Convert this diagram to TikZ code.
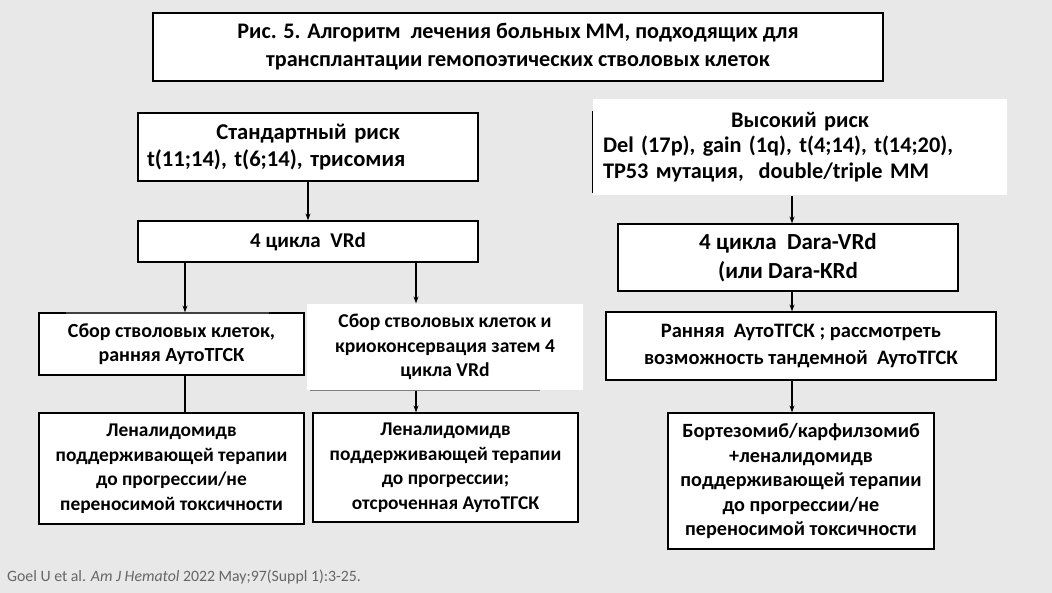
\documentclass[tikz,border=0pt]{standalone}
\usepackage{fontspec}
\setmainfont{Carlito}
\usetikzlibrary{arrows.meta,positioning}

\newcommand\boxfont[2]{\fontsize{#1}{#2}\selectfont\bfseries}

\tikzset{
	box/.style={draw, line width=1.2pt, fill=white, align=center, inner sep=2pt,
	  font=\boxfont{20}{24.5}},
	plain/.style={box, draw=none},
	arr/.style={-{Stealth[length=7pt,width=5pt]}, line width=1.2pt},
	ln/.style={line width=1.2pt}
}

\begin{document}
\begin{tikzpicture}[x=1pt,y=-1pt]
	\fill[gray!18] (0,0) rectangle (1052,593);
	\useasboundingbox (0,0) rectangle (1052,593);

	\node[box, minimum width=730pt, minimum height=68pt, font=\boxfont{22.2}{28}] (title) at (518,47)
	  {Рис. 5. Алгоритм \ лечения больных ММ, подходящих для\\
	   трансплантации гемопоэтических стволовых клеток};

	% left branch
	\node[box, minimum width=340pt, minimum height=68pt, text width=322pt, align=left,
	  font=\boxfont{22.6}{27}] (std) at (308,147)
	  {\hfil Стандартный риск\hfil\\t(11;14), t(6;14), трисомия};
	\node[box, minimum width=340pt, minimum height=41pt, font=\boxfont{21}{25}] (vrd) at (308,241.5)
	  {4 цикла \ VRd};
	\node[box, minimum width=265pt, minimum height=62pt] (col1) at (171.5,344)
	  {Сбор стволовых клеток,\\ранняя АутоТГСК};
	\draw[black!75, line width=2.2pt] ([xshift=28pt,yshift=-0.8pt]col1.north west) -- ([xshift=-36pt,yshift=-0.8pt]col1.north east);
	\node[plain, minimum width=276pt, minimum height=86pt, font=\boxfont{19.6}{24.5}] (col2) at (445,347)
	  {Сбор стволовых клеток и\\криоконсервация затем 4\\цикла VRd};
	\draw[gray, line width=1.5pt] ([xshift=4pt]col2.south west) -- ([xshift=-44pt]col2.south east);
	\node[box, minimum width=265pt, minimum height=111pt, font=\boxfont{19.4}{24.5}] (len1) at (171.5,468.5)
	  {Леналидомидв\\поддерживающей терапии\\до прогрессии/не\\переносимой токсичности};
	\node[box, minimum width=265pt, minimum height=109pt, font=\boxfont{19.4}{24.5}] (len2) at (445.5,467.5)
	  {Леналидомидв\\поддерживающей терапии\\до прогрессии;\\отсроченная АутоТГСК};

	% right branch
	\node[plain, minimum width=414pt, minimum height=96pt, text width=394pt, align=left,
	  font=\boxfont{22.3}{25.5}] (high) at (800,147)
	  {\hfil Высокий риск\hfil\\Del (17p), gain (1q), t(4;14), t(14;20),\\TP53 мутация, \ double/triple MM};
	\draw[ln] ([yshift=-13pt]high.north west) -- ([yshift=3pt]high.south west);
	\node[box, minimum width=340pt, minimum height=67pt, font=\boxfont{23}{29}] (dvrd) at (788,257.5)
	  {4 цикла \ Dara-VRd\\(или Dara-KRd};
	\node[box, minimum width=390pt, minimum height=68pt, font=\boxfont{20.5}{27}] (early) at (801,346)
	  {Ранняя \ АутоТГСК ; рассмотреть\\возможность тандемной \ АутоТГСК};
	\node[box, minimum width=266pt, minimum height=136pt, font=\boxfont{20.2}{24.5}] (bort) at (801,481)
	  {Бортезомиб/карфилзомиб\\+леналидомидв\\поддерживающей терапии\\до прогрессии/не\\переносимой токсичности};

	\node[anchor=west, text=black!60, font=\fontsize{15.8}{18}\selectfont, inner sep=0pt] (cite) at (7,577)
	  {Goel U et al. \textit{Am J Hematol} 2022 May;97(Suppl 1):3-25.};

	% connectors
	\coordinate (xl) at (185,0);
	\coordinate (xm) at (416,0);
	\coordinate (xr) at (792,0);
	\draw[arr] (std) -- (vrd);
	\draw[arr] (vrd.south -| xl) -- (col1.north -| xl);
	\draw[arr] (vrd.south -| xm) -- (col2.north -| xm);
	\draw[ln] (col1.south -| xl) -- (len1.north -| xl);
	\draw[arr] (col2.south -| xm) -- (len2.north -| xm);
	\draw[arr] (high.south -| xr) -- (dvrd.north -| xr);
	\draw[arr] (dvrd.south -| xr) -- (early.north -| xr);
	\draw[arr] (early.south -| xr) -- (bort.north -| xr);
\end{tikzpicture}
\end{document}
